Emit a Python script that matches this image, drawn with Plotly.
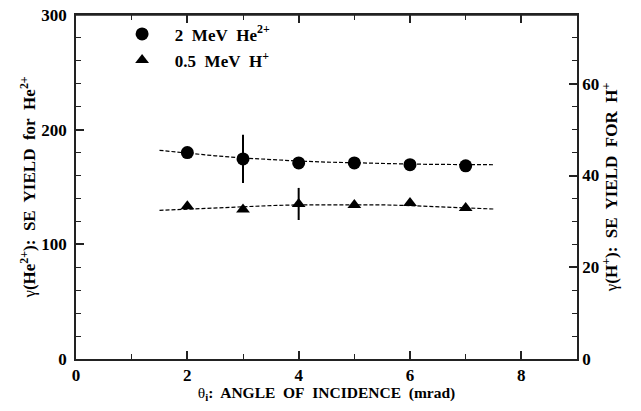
import plotly.graph_objects as go

# Data
angle = [2, 3, 4, 5, 6, 7]
he_yield = [180, 174.5, 171, 171, 169.5, 168.5]
he_err = [0, 21, 0, 0, 0, 0]
h_yield = [33.3, 32.6, 33.8, 33.6, 34.0, 32.9]
h_err = [0, 0, 3.5, 0, 0, 0]

fit_x = [1.5, 2, 2.5, 3, 3.5, 4, 4.5, 5, 5.5, 6, 6.5, 7, 7.5]
he_fit = [182, 179.5, 177.2, 175.3, 173.8, 172.6, 171.7, 171.0, 170.4, 170.0, 169.7, 169.5, 169.4]
h_fit = [32.4, 32.7, 33.0, 33.25, 33.45, 33.6, 33.65, 33.65, 33.6, 33.45, 33.25, 33.0, 32.7]

x_ticks = [0, 2, 4, 6, 8]
y_left_ticks = [0, 100, 200, 300]
y_right_ticks = [0, 20, 40, 60]

FONT = "Liberation Serif"
TF = dict(family=FONT, size=17, color="black", weight="bold")
fig = go.Figure()

fig.add_trace(go.Scatter(x=fit_x, y=he_fit, mode="lines", showlegend=False,
                         line=dict(color="black", width=1.2, dash="4px,2px")))
fig.add_trace(go.Scatter(x=fit_x, y=h_fit, mode="lines", showlegend=False, yaxis="y2",
                         line=dict(color="black", width=1.2, dash="4px,2px")))

fig.add_trace(go.Scatter(
    x=angle, y=he_yield, mode="markers",
    name="\u00a0\u00a0\u00a02\u00a0 MeV\u00a0 He<sup>2+</sup>",
    legendgroup="a",
    marker=dict(symbol="circle", size=13, color="black"),
    error_y=dict(type="data", array=he_err, visible=True, color="black", thickness=2, width=0)))
fig.add_trace(go.Scatter(
    x=angle, y=h_yield, mode="markers",
    name="\u00a0\u00a0\u00a00.5\u00a0 MeV\u00a0 H<sup>+</sup>",
    legendgroup="b", yaxis="y2",
    marker=dict(symbol="triangle-up", size=12, color="black"),
    error_y=dict(type="data", array=h_err, visible=True, color="black", thickness=2, width=0)))

axis_common = dict(showline=True, linecolor="#222", linewidth=1.5, ticks="inside",
                   tickcolor="#222", tickwidth=1.5, showgrid=False, zeroline=False,
                   automargin=False, tickfont=TF, ticklabeloverflow="allow")

# page has an 8px body margin: keep the figure inside the window, offset by 8px
fig.update_layout(
    width=625, height=395,
    margin=dict(l=68, r=56, t=7, b=44, autoexpand=False),
    paper_bgcolor="white", plot_bgcolor="white",
    font=dict(family=FONT, size=17, color="black"),
    showlegend=True,
    legend=dict(x=0.092, y=0.996, xanchor="left", yanchor="top",
                bgcolor="rgba(0,0,0,0)", tracegroupgap=1, traceorder="grouped",
                font=TF),
    shapes=[dict(type="line", xref="paper", yref="paper", x0=0, x1=1, y0=1, y1=1,
                 line=dict(color="#222", width=1.5), layer="above")],
    xaxis=dict(range=[0, 9], tickvals=x_ticks, ticklen=8, mirror="ticks",
               minor=dict(dtick=1, tick0=0, ticks="inside", ticklen=5, tickcolor="#222", tickwidth=1.2),
               title=dict(text="<span style='font-weight:normal'>θ</span><sub>i</sub>:\u00a0 ANGLE\u00a0 OF\u00a0 INCIDENCE\u00a0 (mrad)",
                          font=dict(family=FONT, size=15.5, color="black", weight="bold"), standoff=2),
               **axis_common),
    yaxis=dict(range=[0, 300], tickvals=y_left_ticks, ticklen=8, ticklabelstandoff=4,
               minor=dict(dtick=20, tick0=0, ticks="inside", ticklen=5, tickcolor="#222", tickwidth=1.2),
               title=dict(text="<span style='font-weight:normal'>γ</span>(He<sup>2+</sup>):\u00a0 SE\u00a0 YIELD\u00a0 for\u00a0 He<sup>2+</sup>",
                          font=TF, standoff=1),
               **axis_common),
    yaxis2=dict(range=[0, 75], tickvals=y_right_ticks, ticklen=8, overlaying="y", side="right",
                minor=dict(dtick=5, tick0=0, ticks="inside", ticklen=5, tickcolor="#222", tickwidth=1.2),
                title=dict(text="<span style='font-weight:normal'>γ</span>(H<sup>+</sup>):\u00a0 SE\u00a0 YIELD\u00a0 FOR\u00a0 H<sup>+</sup>",
                           font=TF, standoff=0),
                **axis_common),
)

fig.write_html("out.html")
